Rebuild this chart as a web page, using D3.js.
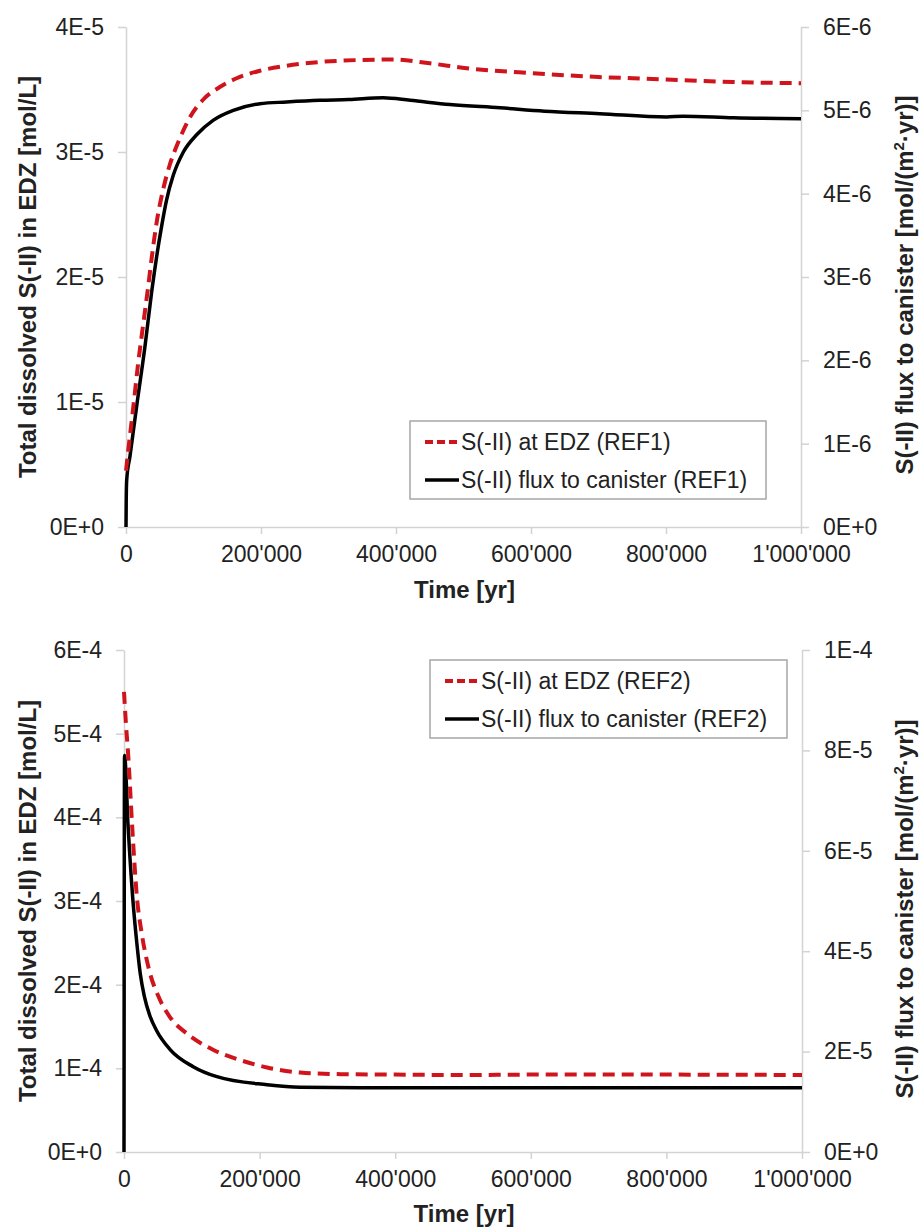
<!DOCTYPE html>
<html>
<head>
<meta charset="utf-8">
<script src="https://cdn.jsdelivr.net/npm/d3@7"></script>
<style>
  html, body { margin: 0; padding: 0; background: #fff; }
  svg { display: block; font-family: "Liberation Sans", Arial, sans-serif; }
</style>
</head>
<body>
<svg id="chart" width="919" height="1228"></svg>
<script>
// ---------- DATA ----------
const xTickValues = [0, 200000, 400000, 600000, 800000, 1000000];
const xTickLabels = ["0", "200'000", "400'000", "600'000", "800'000", "1'000'000"];

// Panel 1 (REF1)
const ref1LeftTicks = [0, 1e-5, 2e-5, 3e-5, 4e-5];
const ref1LeftLabels = ["0E+0", "1E-5", "2E-5", "3E-5", "4E-5"];
const ref1RightTicks = [0, 1e-6, 2e-6, 3e-6, 4e-6, 5e-6, 6e-6];
const ref1RightLabels = ["0E+0", "1E-6", "2E-6", "3E-6", "4E-6", "5E-6", "6E-6"];

const ref1EdzTime = [0, 3500, 10800, 18000, 25700, 33000, 38000, 45500, 55000, 65000, 77500, 95000, 114500, 139000, 164000, 198500, 238000, 287000, 340000, 396000, 450000, 505000, 603000, 700000, 751000, 800000, 899000, 1000000];
const ref1EdzConc = [4.5e-6, 6.2e-6, 9.6e-6, 13.1e-6, 16.3e-6, 19.3e-6, 21.5e-6, 24.4e-6, 27.0e-6, 29.0e-6, 30.8e-6, 32.8e-6, 34.2e-6, 35.2e-6, 35.9e-6, 36.5e-6, 36.9e-6, 37.2e-6, 37.35e-6, 37.4e-6, 37.1e-6, 36.7e-6, 36.3e-6, 36.0e-6, 35.9e-6, 35.8e-6, 35.6e-6, 35.5e-6];

const ref1FluxTime = [0, 300, 1000, 5900, 15800, 28000, 38000, 45500, 53000, 60000, 70000, 85000, 105000, 129000, 159000, 198500, 238000, 287000, 330000, 381000, 421000, 480000, 554000, 620000, 702000, 801000, 825000, 900000, 1000000];
const ref1Flux = [0, 0.3e-6, 0.56e-6, 0.85e-6, 1.45e-6, 2.16e-6, 2.82e-6, 3.25e-6, 3.62e-6, 3.92e-6, 4.22e-6, 4.50e-6, 4.71e-6, 4.88e-6, 5.00e-6, 5.08e-6, 5.10e-6, 5.12e-6, 5.13e-6, 5.15e-6, 5.12e-6, 5.07e-6, 5.03e-6, 4.99e-6, 4.96e-6, 4.92e-6, 4.93e-6, 4.91e-6, 4.90e-6];

// Panel 2 (REF2)
const ref2LeftTicks = [0, 1e-4, 2e-4, 3e-4, 4e-4, 5e-4, 6e-4];
const ref2LeftLabels = ["0E+0", "1E-4", "2E-4", "3E-4", "4E-4", "5E-4", "6E-4"];
const ref2RightTicks = [0, 2e-5, 4e-5, 6e-5, 8e-5, 1e-4];
const ref2RightLabels = ["0E+0", "2E-5", "4E-5", "6E-5", "8E-5", "1E-4"];

const ref2EdzTime = [0, 3000, 6000, 12000, 19000, 26000, 36000, 53000, 68000, 92000, 132000, 171000, 211000, 260000, 320000, 400000, 500000, 600000, 800000, 1000000];
const ref2EdzConc = [5.5e-4, 5.1e-4, 4.77e-4, 3.9e-4, 3.05e-4, 2.62e-4, 2.21e-4, 1.82e-4, 1.61e-4, 1.42e-4, 1.22e-4, 1.1e-4, 1.01e-4, 0.95e-4, 0.93e-4, 0.925e-4, 0.92e-4, 0.925e-4, 0.925e-4, 0.92e-4];

const ref2FluxTime = [0, 800, 6000, 13000, 19000, 24000, 30000, 38000, 48000, 68000, 102000, 137000, 211000, 260000, 350000, 500000, 770000, 1000000];
const ref2Flux = [0, 7.9e-5, 6.5e-5, 5.04e-5, 4.15e-5, 3.55e-5, 3.1e-5, 2.72e-5, 2.42e-5, 2.04e-5, 1.7e-5, 1.5e-5, 1.34e-5, 1.29e-5, 1.28e-5, 1.28e-5, 1.28e-5, 1.28e-5];

// ---------- DRAWING ----------
const svg = d3.select("#chart");
const AXIS_COLOR = "#d3d3d3";
const TEXT_COLOR = "#222";
const RED = "#d0141c";

function drawPanel(p) {
  const g = svg.append("g");
  const x = d3.scaleLinear().domain([0, 1000000]).range([p.x0, p.x1]);
  const yL = d3.scaleLinear().domain(p.leftDomain).range([p.y0, p.y1]);
  const yR = d3.scaleLinear().domain(p.rightDomain).range([p.y0, p.y1]);

  const styleAxis = sel => {
    sel.select(".domain").attr("stroke", AXIS_COLOR).attr("stroke-width", 1.5);
    sel.selectAll(".tick line").attr("stroke", AXIS_COLOR).attr("stroke-width", 1.5);
    sel.selectAll(".tick text").attr("fill", TEXT_COLOR).style("font-size", "23px");
  };

  const xAxis = g.append("g").attr("transform", `translate(0,${p.y0})`)
    .call(d3.axisBottom(x).tickValues(xTickValues)
      .tickFormat((d, i) => xTickLabels[i]).tickSizeInner(7).tickSizeOuter(0).tickPadding(12));
  styleAxis(xAxis);

  const lAxis = g.append("g").attr("transform", `translate(${p.x0},0)`)
    .call(d3.axisLeft(yL).tickValues(p.leftTicks)
      .tickFormat((d, i) => p.leftLabels[i]).tickSizeInner(8).tickSizeOuter(0).tickPadding(14));
  styleAxis(lAxis);

  const rAxis = g.append("g").attr("transform", `translate(${p.x1},0)`)
    .call(d3.axisRight(yR).tickValues(p.rightTicks)
      .tickFormat((d, i) => p.rightLabels[i]).tickSizeInner(8).tickSizeOuter(0).tickPadding(14));
  styleAxis(rAxis);

  // lines
  const edz = p.edzTime.map((t, i) => [t, p.edzConc[i]]);
  const flux = p.fluxTime.map((t, i) => [t, p.flux[i]]);
  g.append("path").datum(flux)
    .attr("fill", "none").attr("stroke", "#000").attr("stroke-width", 3.5)
    .attr("stroke-linejoin", "round")
    .attr("d", d3.line().x(d => x(d[0])).y(d => yR(d[1])).curve(d3.curveMonotoneX));
  g.append("path").datum(edz)
    .attr("fill", "none").attr("stroke", RED).attr("stroke-width", 4)
    .attr("stroke-dasharray", "12,7")
    .attr("d", d3.line().x(d => x(d[0])).y(d => yL(d[1])).curve(d3.curveMonotoneX));

  // axis titles
  g.append("text").attr("x", (p.x0 + p.x1) / 2 + 1).attr("y", p.xTitleY)
    .attr("text-anchor", "middle").attr("fill", TEXT_COLOR)
    .style("font-size", "24px").style("font-weight", "bold").text("Time [yr]");

  const cy = (p.y0 + p.y1) / 2;
  g.append("text").attr("transform", `translate(${p.lTitleX},${cy}) rotate(-90)`)
    .attr("text-anchor", "middle").attr("fill", TEXT_COLOR)
    .style("font-size", "24px").style("font-weight", "bold")
    .text("Total dissolved S(-II) in EDZ [mol/L]");

  const rt = g.append("text").attr("transform", `translate(${p.rTitleX},${cy + 8}) rotate(-90)`)
    .attr("text-anchor", "middle").attr("fill", TEXT_COLOR)
    .style("font-size", "24px").style("font-weight", "bold");
  rt.append("tspan").text("S(-II) flux to canister [mol/(m");
  rt.append("tspan").attr("dy", -9).style("font-size", "15px").text("2");
  rt.append("tspan").attr("dy", 9).text("·yr)]");

  // legend
  const L = p.legend;
  g.append("rect").attr("x", L.x).attr("y", L.y).attr("width", L.w).attr("height", L.h)
    .attr("fill", "#fff").attr("stroke", "#a6a6a6").attr("stroke-width", 1.5);
  const items = [
    { label: p.edzLabel, color: RED, dash: "8,4", w: 4 },
    { label: p.fluxLabel, color: "#000", dash: null, w: 3.5 }
  ];
  items.forEach((it, i) => {
    const by = L.y + 29 + i * 38;
    const ln = g.append("line").attr("x1", L.x + 15).attr("x2", L.x + 49)
      .attr("y1", by - 8).attr("y2", by - 8)
      .attr("stroke", it.color).attr("stroke-width", it.w);
    if (it.dash) ln.attr("stroke-dasharray", it.dash);
    g.append("text").attr("x", L.x + 51).attr("y", by).attr("fill", TEXT_COLOR)
      .style("font-size", "23px").text(it.label);
  });
}

drawPanel({
  x0: 126, x1: 801, y0: 527, y1: 27,
  leftDomain: [0, 4e-5], rightDomain: [0, 6e-6],
  leftTicks: ref1LeftTicks, leftLabels: ref1LeftLabels,
  rightTicks: ref1RightTicks, rightLabels: ref1RightLabels,
  edzTime: ref1EdzTime, edzConc: ref1EdzConc,
  fluxTime: ref1FluxTime, flux: ref1Flux,
  xTitleY: 598, lTitleX: 36, rTitleX: 913,
  legend: { x: 410, y: 421, w: 356, h: 78 },
  edzLabel: "S(-II) at EDZ (REF1)", fluxLabel: "S(-II) flux to canister (REF1)"
});

drawPanel({
  x0: 124, x1: 802, y0: 1152, y1: 650,
  leftDomain: [0, 6e-4], rightDomain: [0, 1e-4],
  leftTicks: ref2LeftTicks, leftLabels: ref2LeftLabels,
  rightTicks: ref2RightTicks, rightLabels: ref2RightLabels,
  edzTime: ref2EdzTime, edzConc: ref2EdzConc,
  fluxTime: ref2FluxTime, flux: ref2Flux,
  xTitleY: 1222, lTitleX: 36, rTitleX: 913,
  legend: { x: 430, y: 660, w: 357, h: 78 },
  edzLabel: "S(-II) at EDZ (REF2)", fluxLabel: "S(-II) flux to canister (REF2)"
});
</script>
</body>
</html>
